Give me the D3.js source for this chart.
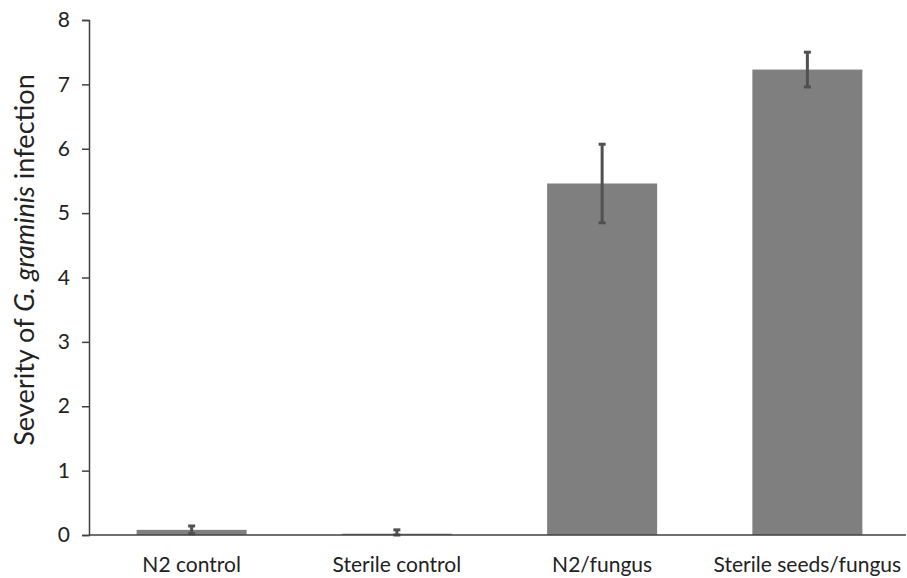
<!DOCTYPE html>
<html><head><meta charset="utf-8">
<script src="https://cdn.jsdelivr.net/npm/d3@7"></script>
<style>body{margin:0;background:#fff}</style>
</head><body>
<svg id="c" width="907" height="578"></svg>
<script>
const categories = ["N2 control", "Sterile control", "N2/fungus", "Sterile seeds/fungus"];
const values = [0.08, 0.02, 5.46, 7.23];
const errors = [0.06, 0.06, 0.61, 0.27];
const yTicks = [0, 1, 2, 3, 4, 5, 6, 7, 8];

const svg = d3.select("#c");
const mLeft = 89, mRight = 910, mTop = 20, mBottom = 535;
const x = d3.scaleBand().domain(categories).range([mLeft, mRight]).paddingInner(0.464).paddingOuter(0.232);
const y = d3.scaleLinear().domain([0, 8]).range([mBottom, mTop]);
const font = "Lato, 'Open Sans', sans-serif";

// bars
svg.selectAll("rect.bar").data(categories).join("rect")
  .attr("x", d => x(d)).attr("width", x.bandwidth())
  .attr("y", (d, i) => y(values[i])).attr("height", (d, i) => y(0) - y(values[i]))
  .attr("fill", "#7f7f80");

// error bars
const eg = svg.append("g").attr("stroke", "#505050").attr("stroke-width", 3);
categories.forEach((c, i) => {
  const cx = x(c) + x.bandwidth() / 2;
  const lo = Math.max(0, values[i] - errors[i]), hi = values[i] + errors[i];
  eg.append("line").attr("x1", cx).attr("x2", cx).attr("y1", y(lo)).attr("y2", y(hi));
  eg.append("line").attr("x1", cx - 3.5).attr("x2", cx + 3.5).attr("y1", y(hi)).attr("y2", y(hi));
  eg.append("line").attr("x1", cx - 3.5).attr("x2", cx + 3.5).attr("y1", y(lo)).attr("y2", y(lo));
});

// y axis
const ya = svg.append("g").attr("transform", `translate(${mLeft},0)`)
  .call(d3.axisLeft(y).tickValues(yTicks).tickSize(7).tickPadding(12).tickFormat(d3.format("d")));
ya.select(".domain").attr("stroke", "#404040").attr("stroke-width", 1.5);
ya.selectAll(".tick line").attr("stroke", "#404040").attr("stroke-width", 1.5);
ya.selectAll(".tick text").attr("font-family", font).attr("font-size", 21).attr("fill", "#222");

// x axis
svg.append("line").attr("x1", mLeft).attr("x2", 906).attr("y1", mBottom).attr("y2", mBottom)
  .attr("stroke", "#404040").attr("stroke-width", 1.5);
svg.selectAll("text.cat").data(categories).join("text")
  .attr("x", d => x(d) + x.bandwidth() / 2).attr("y", 572)
  .attr("text-anchor", "middle").attr("font-family", font)
  .attr("font-size", 21).attr("fill", "#222").text(d => d);

// y label
const yl = svg.append("text").attr("transform", `translate(34,260) rotate(-90)`)
  .attr("text-anchor", "middle").attr("font-family", font)
  .attr("font-size", 26).attr("fill", "#222");
yl.append("tspan").text("Severity of ");
yl.append("tspan").attr("font-style", "italic").text("G. graminis");
yl.append("tspan").text(" infection");
const len = yl.node().getComputedTextLength();
if (len > 0) yl.attr("font-size", 26 * 372 / len);
</script>
</body></html>
